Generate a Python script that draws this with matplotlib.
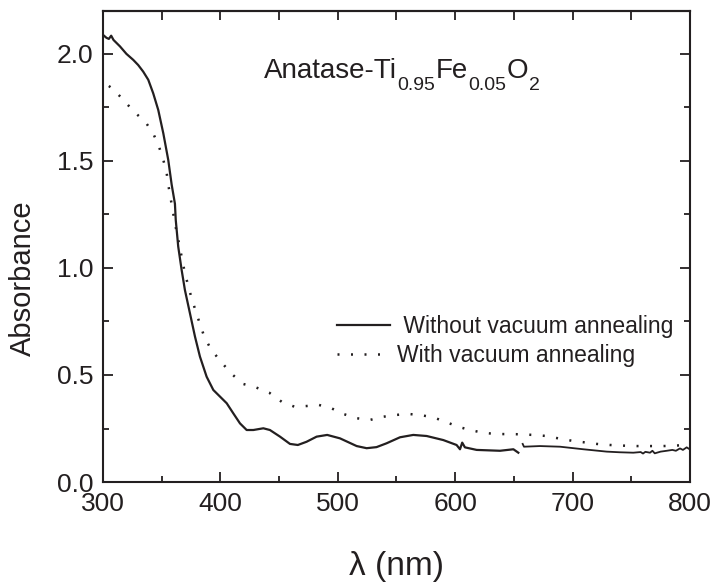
import matplotlib
matplotlib.use('Agg')
import matplotlib.pyplot as plt
import numpy as np

plt.rcParams['font.family'] = ['Liberation Sans', 'DejaVu Sans']

# Образец без вакуумного отжига (сплошная линия)
wl_plain = [300, 303, 305, 307, 309, 314.5, 320, 325.8, 330, 334.3, 338.6, 342.8, 347.1,
            351.4, 355.6, 358.5, 361.3, 362, 364.1, 367, 369.8, 374.1, 378.4, 382.6,
            388.3, 394, 399.7, 405.4, 411, 416.7, 422.4, 428.1, 436.6, 442.2, 450.8,
            459.3, 466, 473.4, 482, 491, 501.9, 516.1, 524.6, 533, 541.6, 553, 564.3,
            575.7, 589.9, 601.2, 604.1, 606, 608.3, 618.3, 638.2, 649.6, 653.8]
abs_plain = [2.089, 2.075, 2.07, 2.085, 2.065, 2.035, 2.0, 1.972, 1.948, 1.917, 1.879,
             1.816, 1.738, 1.629, 1.505, 1.39, 1.30, 1.224, 1.10, 0.991, 0.897, 0.788,
             0.679, 0.586, 0.492, 0.430, 0.399, 0.368, 0.321, 0.274, 0.243, 0.243, 0.251,
             0.243, 0.212, 0.178, 0.173, 0.188, 0.212, 0.220, 0.204, 0.168, 0.158, 0.163,
             0.181, 0.209, 0.220, 0.215, 0.196, 0.173, 0.153, 0.184, 0.162, 0.150, 0.146,
             0.153, 0.137]

# второй участок после разрыва (смена детектора)
wl_plain2 = [657.5, 658.6, 672.2, 689.3, 709.2, 729.1, 740, 751.7, 758, 760, 762, 766,
             768, 770, 775, 780.2, 785, 788, 791.5, 794, 797.2, 800]
abs_plain2 = [0.178, 0.165, 0.168, 0.165, 0.153, 0.142, 0.139, 0.137, 0.14, 0.133, 0.141,
              0.137, 0.146, 0.134, 0.142, 0.146, 0.150, 0.146, 0.157, 0.15, 0.162, 0.152]

# Образец после вакуумного отжига (пунктир)
wl_ann = [305, 308.8, 317.9, 326.4, 336.4, 343.4, 347.7, 351.4, 354.3, 355.6, 361.3,
          365.6, 369.8, 375.5, 382.6, 386.3, 392, 400.5, 409.6, 419.5, 430.3, 441.7,
          452.2, 463, 473.4, 484, 494.8, 504.7, 516.1, 527.4, 538.8, 548.7, 560, 570.2,
          581.5, 591.3, 602.7, 612.6, 623.9, 635.3, 645.2, 655.2, 666.5, 677.9, 687.8,
          699.2, 709.2, 720.5, 731.8, 743.2, 754.5, 765.9, 777.2, 787.1, 797, 800]
abs_ann = [1.85, 1.835, 1.782, 1.730, 1.681, 1.621, 1.567, 1.505, 1.442, 1.39, 1.209,
           1.092, 0.975, 0.858, 0.738, 0.679, 0.620, 0.562, 0.505, 0.458, 0.442, 0.417,
           0.375, 0.352, 0.355, 0.360, 0.344, 0.318, 0.298, 0.290, 0.305, 0.313, 0.318,
           0.313, 0.302, 0.282, 0.258, 0.243, 0.230, 0.224, 0.224, 0.223, 0.220, 0.215,
           0.204, 0.193, 0.186, 0.178, 0.173, 0.170, 0.168, 0.168, 0.168, 0.170, 0.173,
           0.18]

# подпись состава: (текст, это индекс?)
formula = [('Anatase-Ti', False), ('0.95', True), ('Fe', False), ('0.05', True),
           ('O', False), ('2', True)]

ink = '#231f20'

fig = plt.figure(figsize=(7.15, 5.83), dpi=100)
ax = fig.add_axes([0.144, 0.1732, 0.821, 0.8078])

ax.plot(wl_plain, abs_plain, color=ink, lw=1.6, label=' Without vacuum annealing')
ax.plot(wl_plain2, abs_plain2, color=ink, lw=1.3)
ax.plot(wl_ann, abs_ann, color=ink, lw=1.8, linestyle=(0, (0.8, 4.6)),
        label='With vacuum annealing')

ax.set_xlim(300, 800)
ax.set_ylim(0, 2.2)
ax.set_xticks(np.arange(300, 801, 100))
ax.set_xticks(np.arange(350, 800, 100), minor=True)
ax.set_yticks([0.0, 0.5, 1.0, 1.5, 2.0])
ax.set_yticks([0.25, 0.75, 1.25, 1.75], minor=True)
ax.tick_params(which='both', direction='in', right=True, labelsize=19, width=1.3,
               colors=ink, pad=7)
ax.tick_params(which='major', length=7.5)
ax.tick_params(which='minor', length=4.5)

# сверху все риски одинаковой длины
top = ax.secondary_xaxis('top')
top.set_xticks(np.arange(300, 801, 50))
top.tick_params(direction='in', length=6.5, width=1.3, labeltop=False, colors=ink)
top.spines['top'].set_linewidth(1.5)

for sp in ax.spines.values():
    sp.set_linewidth(1.5)
    sp.set_color(ink)

ax.set_ylabel('Absorbance', fontsize=21, color=ink)
ax.yaxis.set_label_coords(-0.112, 0.433)
ax.set_xlabel('λ (nm)', fontsize=24, color=ink)
ax.xaxis.set_label_coords(0.5, -0.146)

# формула собирается по кускам, индексы опущены ниже строки
first = ax.text(437, 1.888, formula[0][0], fontsize=20, color=ink, va='baseline')
prev = first
for part, is_sub in formula[1:]:
    if is_sub:
        prev = ax.annotate(part, xy=(1, 0), xycoords=(prev, first), xytext=(0.3, -4.5),
                           textcoords='offset points', fontsize=14, color=ink,
                           va='baseline', ha='left')
    else:
        prev = ax.annotate(part, xy=(1, 0), xycoords=(prev, first), xytext=(0.3, 0),
                           textcoords='offset points', fontsize=20, color=ink,
                           va='bottom', ha='left')

ax.legend(loc='upper left', bbox_to_anchor=(0.399, 0.354), frameon=False, fontsize=16.5,
          handlelength=2.3, handletextpad=0.3, labelspacing=0.25, borderpad=0,
          borderaxespad=0, labelcolor=ink)

plt.savefig('out.png', dpi=100)
